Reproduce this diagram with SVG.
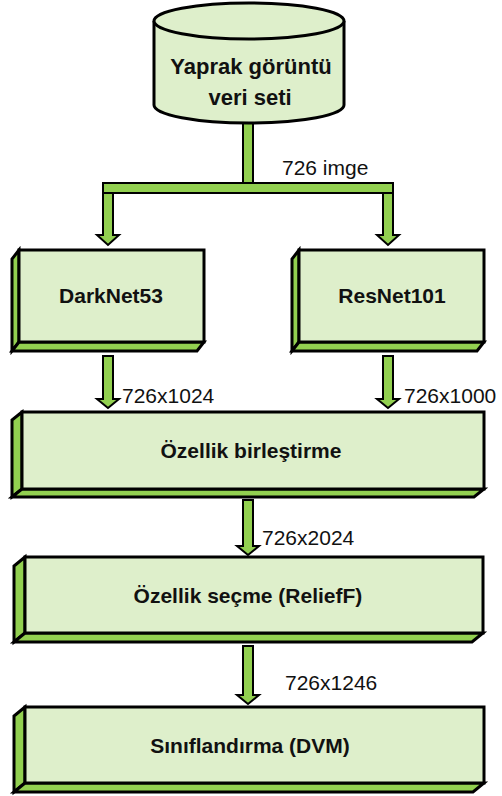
<svg xmlns="http://www.w3.org/2000/svg" width="502" height="796" viewBox="0 0 502 796">
  <style>
    .face { fill: #DEEFCB; stroke: #000; stroke-width: 3; stroke-linejoin: miter; }
    .side { fill: #92D050; stroke: #000; stroke-width: 3; stroke-linejoin: miter; }
    .flow { fill: #92D050; stroke: #000; stroke-width: 2; stroke-linejoin: miter; }
    .title { font-family: "Liberation Sans", Arial, sans-serif; font-weight: bold; font-size: 21px; fill: #111; text-anchor: middle; }
    .big { font-size: 22px; }
    .label { font-family: "Liberation Sans", Arial, sans-serif; font-size: 21px; fill: #111; }
  </style>

  <!-- connectors: block arrows -->
  <g id="connectors">
    <!-- stem from the dataset down to the split bar -->
    <rect class="flow" x="243" y="123" width="10" height="61"/>
    <rect class="flow" x="103" y="183" width="290" height="10"/>
    <!-- branch arrows -->
    <polygon class="flow" points="103,193 113,193 113,235 119,235 108,245 97,235 103,235"/>
    <polygon class="flow" points="383,193 393,193 393,235 399,235 388,245 377,235 383,235"/>
    <!-- network outputs to fusion -->
    <polygon class="flow" points="103,356 113,356 113,399 119,399 108,408 97,399 103,399"/>
    <polygon class="flow" points="383,356 393,356 393,399 399,399 388,408 377,399 383,399"/>
    <!-- fusion to selection -->
    <polygon class="flow" points="243,500 253,500 253,546 259,546 248,555 237,546 243,546"/>
    <!-- selection to classification -->
    <polygon class="flow" points="243,646 253,646 253,695 259,695 248,704 237,695 243,695"/>
    <text class="label" x="282" y="175">726 imge</text>
    <text class="label" x="122" y="403">726x1024</text>
    <text class="label" x="404" y="403">726x1000</text>
    <text class="label" x="262" y="545">726x2024</text>
    <text class="label" x="285" y="690">726x1246</text>
  </g>

  <!-- dataset cylinder -->
  <g id="dataset">
    <path class="face" d="M154,21 L154,105 A95,18 0 0 0 344,105 L344,21"/>
    <ellipse class="face" cx="249" cy="21" rx="95" ry="18"/>
    <text class="title big" x="251" y="74">Yaprak görüntü</text>
    <text class="title big" x="250" y="105">veri seti</text>
  </g>

  <!-- DarkNet53 -->
  <g id="darknet">
    <polygon class="side" points="19,250 12,259 12,351 19,342"/>
    <polygon class="side" points="19,342 12,351 197,351 204,342"/>
    <rect class="face" x="19" y="250" width="185" height="92"/>
    <text class="title" x="111" y="303">DarkNet53</text>
  </g>

  <!-- ResNet101 -->
  <g id="resnet">
    <polygon class="side" points="299,250 292,259 292,351 299,342"/>
    <polygon class="side" points="299,342 292,351 477,351 484,342"/>
    <rect class="face" x="299" y="250" width="185" height="92"/>
    <text class="title" x="392" y="303">ResNet101</text>
  </g>

  <!-- feature fusion -->
  <g id="fusion">
    <polygon class="side" points="22,412 12,420 12,497 22,489"/>
    <polygon class="side" points="22,489 12,497 474,497 484,489"/>
    <rect class="face" x="22" y="412" width="462" height="77"/>
    <text class="title" x="251" y="458">Özellik birleştirme</text>
  </g>

  <!-- feature selection -->
  <g id="selection">
    <polygon class="side" points="25,557 14,566 14,642 25,633"/>
    <polygon class="side" points="25,633 14,642 472,642 483,633"/>
    <rect class="face" x="25" y="557" width="458" height="76"/>
    <text class="title" x="248" y="603">Özellik seçme (ReliefF)</text>
  </g>

  <!-- classification -->
  <g id="classification">
    <polygon class="side" points="25,707 14,716 14,792 25,783"/>
    <polygon class="side" points="25,783 14,792 473,792 484,783"/>
    <rect class="face" x="25" y="707" width="459" height="76"/>
    <text class="title" x="250" y="753">Sınıflandırma (DVM)</text>
  </g>
</svg>
